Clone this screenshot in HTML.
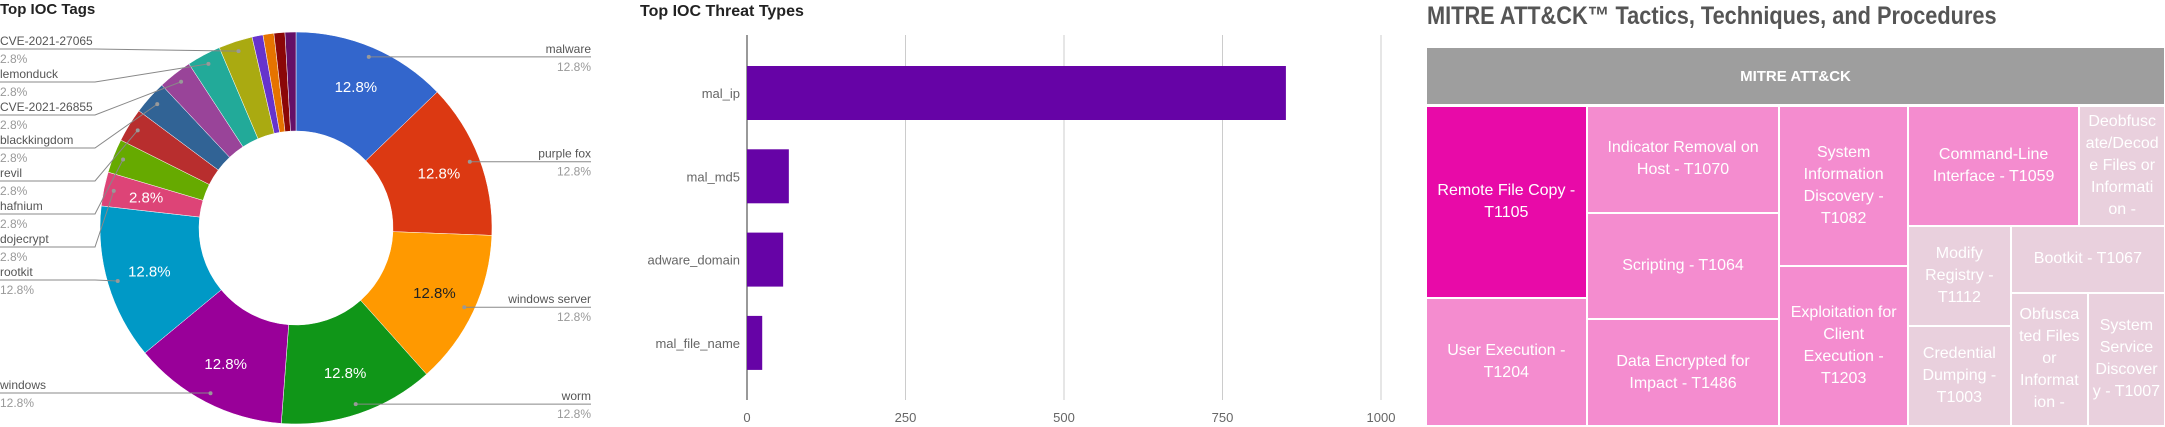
<!DOCTYPE html>
<html><head><meta charset="utf-8">
<style>
html,body{margin:0;padding:0;background:#fff;width:2165px;height:427px;overflow:hidden;font-family:"Liberation Sans",sans-serif;}
#root{position:relative;width:2165px;height:427px;}
svg text{font-family:"Liberation Sans",sans-serif;}
.cell{position:absolute;display:flex;align-items:center;justify-content:center;text-align:center;color:#fff;font-size:16px;line-height:22px;overflow:hidden;box-sizing:border-box;}
#tm-title{position:absolute;left:1427px;top:2px;font-size:25px;font-weight:bold;color:#555;white-space:nowrap;transform:scaleX(0.87);transform-origin:left top;}
#tm-header{position:absolute;left:1427px;top:48px;width:737px;height:56px;background:#9e9e9e;color:#fff;font-weight:bold;font-size:15px;display:flex;align-items:center;justify-content:center;}
</style></head><body>
<div id="root">
<svg id="pie" width="620" height="427" style="position:absolute;left:0;top:0">
<text x="0" y="14" font-size="15" font-weight="bold" fill="#222">Top IOC Tags</text>
</svg>
<svg id="bar" width="780" height="427" style="position:absolute;left:620px;top:0">
<text x="20" y="16" font-size="16" font-weight="bold" fill="#222">Top IOC Threat Types</text>
</svg>
<div id="tm-title">MITRE ATT&amp;CK™ Tactics, Techniques, and Procedures</div>
<div id="tm-header">MITRE ATT&amp;CK</div>
<div id="tm"></div>
</div>
<script>
// ---------- PIE DATA ----------
const pieLabels = ["malware","purple fox","windows server","worm","windows","rootkit","dojecrypt","hafnium","revil","blackkingdom","CVE-2021-26855","lemonduck","CVE-2021-27065","other1","other2","other3","other4"];
const pieValues = [12.8,12.8,12.8,12.8,12.8,12.8,2.8,2.8,2.8,2.8,2.8,2.8,2.8,0.9,0.9,0.9,0.9];
const pieColors = ["#3366cc","#dc3912","#ff9900","#109618","#990099","#0099c6","#dd4477","#66aa00","#b82e2e","#316395","#994499","#22aa99","#aaaa11","#6633cc","#e67300","#8b0707","#651067"];
// ---------- BAR DATA ----------
const barCategories = ["mal_ip","mal_md5","adware_domain","mal_file_name"];
const barValues = [850,66,57,24];
const barTicks = [0,250,500,750,1000];
// ---------- TREEMAP DATA ----------
const tmNames = ["Remote File Copy -\nT1105","User Execution -\nT1204","Indicator Removal on\nHost - T1070","Scripting - T1064","Data Encrypted for\nImpact - T1486","System\nInformation\nDiscovery -\nT1082","Exploitation for\nClient\nExecution -\nT1203","Command-Line\nInterface - T1059","Deobfusc\nate/Decod\ne Files or\nInformati\non -","Modify\nRegistry -\nT1112","Credential\nDumping -\nT1003","Bootkit - T1067","Obfusca\nted Files\nor\nInformat\nion -","System\nService\nDiscover\ny - T1007"];
const tmValues = [3,2,2,2,2,2,2,2,1,1,1,1,1,1];

const NS="http://www.w3.org/2000/svg";
function mk(parent,tag,attrs){const e=document.createElementNS(NS,tag);for(const k in attrs)e.setAttribute(k,attrs[k]);parent.appendChild(e);return e;}

// ---------- PIE ----------
(function(){
 const svg=document.getElementById('pie');
 const cx=296,cy=228,R=196,r=97;
 const total=pieValues.reduce((a,b)=>a+b,0);
 const pt=(a,rad)=>[cx+rad*Math.sin(a),cy-rad*Math.cos(a)];
 let acc=0;
 const mids=[];
 pieValues.forEach((v,i)=>{
  const a0=acc/total*2*Math.PI; acc+=v; const a1=acc/total*2*Math.PI;
  const large=(a1-a0)>Math.PI?1:0;
  const p0=pt(a0,R),p1=pt(a1,R),q1=pt(a1,r),q0=pt(a0,r);
  const p=mk(svg,'path',{d:`M${p0[0]},${p0[1]}A${R},${R} 0 ${large} 1 ${p1[0]},${p1[1]}L${q1[0]},${q1[1]}A${r},${r} 0 ${large} 0 ${q0[0]},${q0[1]}Z`,fill:pieColors[i],stroke:'#fff','stroke-width':0.5});
  
  
  mids.push((a0+a1)/2);
 });
 // inner percentage labels
 pieValues.forEach((v,i)=>{
  if(i>6) return;
  const m=pt(mids[i],153);
  const t=mk(svg,'text',{x:m[0],y:m[1]+5,'font-size':15,'text-anchor':'middle',fill:i===2?'#222':'#fff'});
  t.textContent=v.toFixed(1)+'%';
  
  
 });
 // external labels
 const rightIdx=[0,1,2,3];
 rightIdx.forEach(i=>{
  const d=pt(mids[i],186);
  const ly=d[1];
  mk(svg,'line',{x1:d[0],y1:ly,x2:591,y2:ly,stroke:'#888','stroke-width':1});
  mk(svg,'circle',{cx:d[0],cy:d[1],r:2,fill:'#999'});
  const t=mk(svg,'text',{x:591,y:ly-4,'font-size':12,'text-anchor':'end',fill:'#555'});t.textContent=pieLabels[i];
  
  
  const t2=mk(svg,'text',{x:591,y:ly+14,'font-size':12,'text-anchor':'end',fill:'#999'});t2.textContent=pieValues[i].toFixed(1)+'%';
  
  
 });
 const leftIdx=[12,11,10,9,8,7,6,5];
 leftIdx.forEach((i,k)=>{
  const d=pt(mids[i],186);
  const ly=49+33*k;
  const ex=Math.min(95,d[0]);
  mk(svg,'polyline',{points:`0,${ly} ${ex},${ly} ${d[0]},${d[1]}`,fill:'none',stroke:'#888','stroke-width':1});
  mk(svg,'circle',{cx:d[0],cy:d[1],r:2,fill:'#999'});
  const t=mk(svg,'text',{x:0,y:ly-4,'font-size':12,fill:'#555'});t.textContent=pieLabels[i];
  
  
  const t2=mk(svg,'text',{x:0,y:ly+14,'font-size':12,fill:'#999'});t2.textContent=pieValues[i].toFixed(1)+'%';
  
  
 });
 {const i=4;const d=pt(mids[i],186);const ly=393;
  mk(svg,'line',{x1:0,y1:ly,x2:d[0],y2:ly,stroke:'#888','stroke-width':1});
  mk(svg,'circle',{cx:d[0],cy:d[1],r:2,fill:'#999'});
  const t=mk(svg,'text',{x:0,y:ly-4,'font-size':12,fill:'#555'});t.textContent=pieLabels[i];
  
  
  const t2=mk(svg,'text',{x:0,y:ly+14,'font-size':12,fill:'#999'});t2.textContent=pieValues[i].toFixed(1)+'%';
  
  }
})();

// ---------- BAR ----------
(function(){
 const svg=document.getElementById('bar');
 const x0=127,x1=761,top=35,bottom=400;
 const xs=v=>x0+(v/1000)*(x1-x0);
 const c0=93,step=83.3,bh=54;
 const ys=i=>c0+i*step;
 barTicks.forEach(t=>{
  const l=mk(svg,'line',{x1:xs(t),y1:top,x2:xs(t),y2:bottom,stroke:t===0?'#333':'#ccc','stroke-width':1});
  
  
  const tx=mk(svg,'text',{x:xs(t),y:422,'font-size':13,'text-anchor':'middle',fill:'#666'});tx.textContent=t;
  
  
 });
 barValues.forEach((v,i)=>{
  const b=mk(svg,'rect',{x:xs(0),y:ys(i)-bh/2,width:xs(v)-xs(0),height:bh,fill:'#6603a6'});
  
  
  const t=mk(svg,'text',{x:120,y:ys(i)+5,'font-size':13,'text-anchor':'end',fill:'#666'});t.textContent=barCategories[i];
  
  
 });
})();

// ---------- TREEMAP ----------
(function(){
 const host=document.getElementById('tm');
 const colorFor=v=>v>=3?'#e80aa8':(v>=2?'#f48ccf':'#e9d0dd');
 // layout tree: leaves are indices into tmNames/tmValues
 const tree={d:'h',c:[{d:'v',c:[0,1]},{d:'v',c:[2,3,4]},{d:'v',c:[5,6]},
   {d:'v',c:[{d:'h',c:[7,8]},{d:'h',c:[{d:'v',c:[9,10]},{d:'v',c:[11,{d:'h',c:[12,13]}]}]}]}]};
 const sum=n=>typeof n==='number'?tmValues[n]:n.c.reduce((a,c)=>a+sum(c),0);
 function lay(n,x,y,w,h,dir){
  if(typeof n==='number'){
   const e=document.createElement('div');
   e.className='cell';
   
   
   e.style.cssText=`left:${x+1}px;top:${y+1}px;width:${w-2}px;height:${h-2}px;background:${colorFor(tmValues[n])}`;
   e.innerHTML=tmNames[n].replace(/&/g,'&amp;').split('\n').join('<br>');
   host.appendChild(e);return;
  }
  const tot=sum(n);let off=0;
  n.c.forEach(c=>{const f=sum(c)/tot;
   if(n.d==='h'){lay(c,x+off,y,w*f,h);off+=w*f;}else{lay(c,x,y+off,w,h*f);off+=h*f;}});
 }
 lay(tree,1426,106,739,320);
})();
</script>
</body></html>
